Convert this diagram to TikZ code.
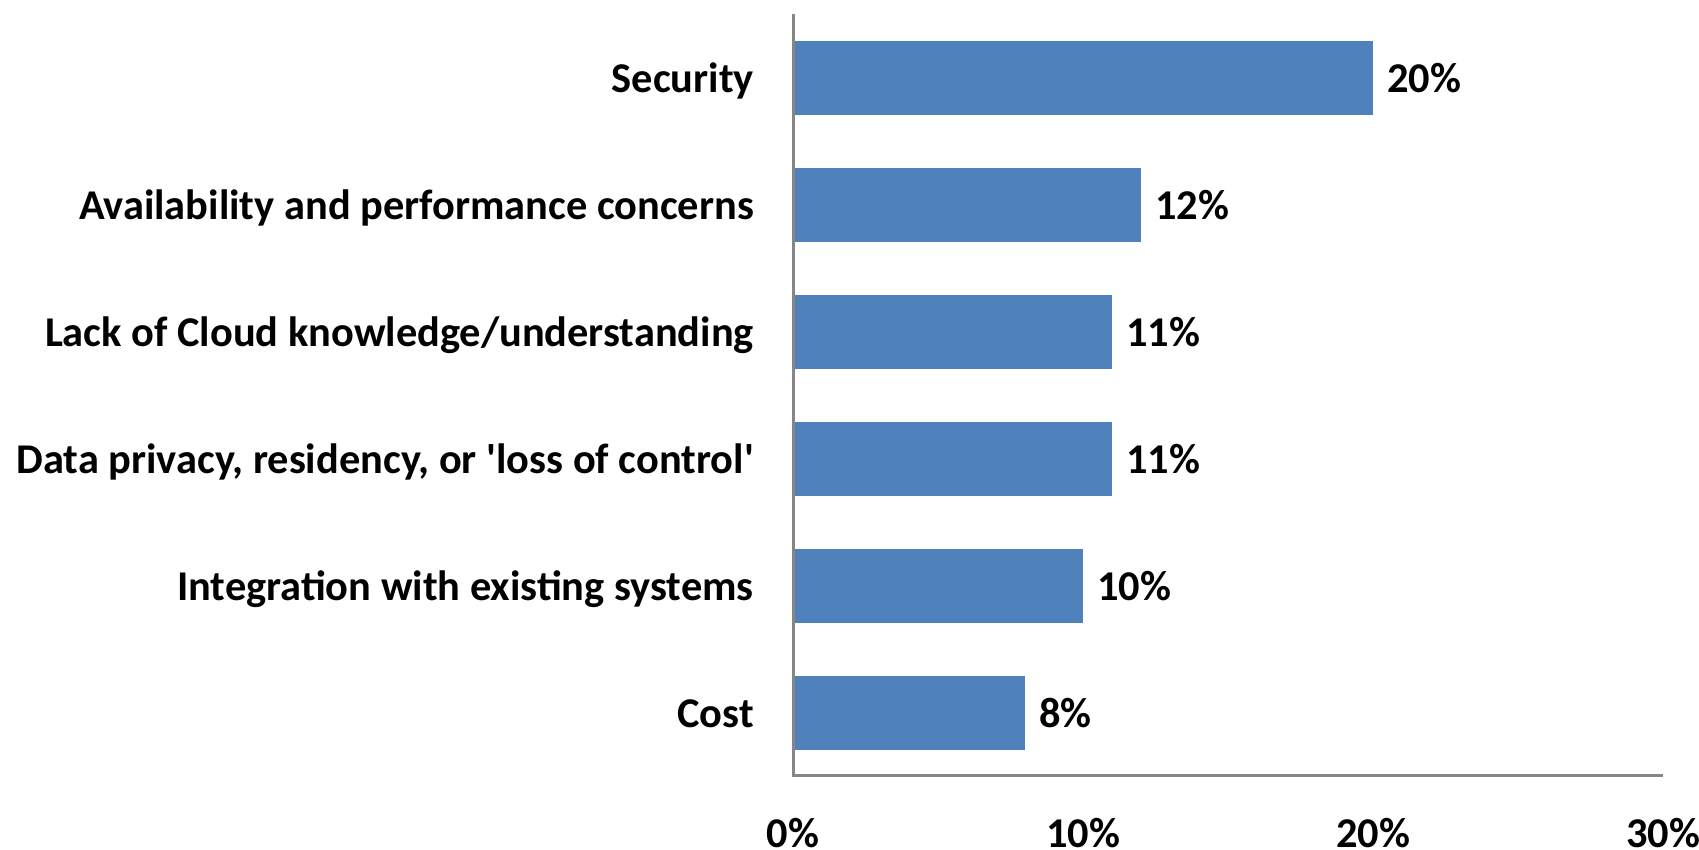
\documentclass[tikz,border=0pt]{standalone}
\usepackage{fontspec}
\setmainfont{Carlito}[Ligatures=TeXOff]
\definecolor{barblue}{HTML}{4F81BD}
\definecolor{axisgray}{HTML}{868686}
\begin{document}
\begin{tikzpicture}[x=1pt,y=-1pt,
  lbl/.style={font=\fontsize{42.4}{50}\selectfont\bfseries, inner sep=0pt, anchor=base east},
  val/.style={font=\fontsize{42.4}{50}\selectfont\bfseries, inner sep=0pt, anchor=base west},
  tick/.style={font=\fontsize{42.4}{50}\selectfont\bfseries, inner sep=0pt, anchor=base},
  barr/.style={fill=barblue, draw=none},
  axisline/.style={draw=axisgray, line width=3pt}]
\useasboundingbox (0,0) rectangle (1699,849);
% bars (10% = 290)
\fill[barr] (793,41) rectangle (1373,115);
\fill[barr] (793,168) rectangle (1141,242);
\fill[barr] (793,295) rectangle (1112,369);
\fill[barr] (793,422) rectangle (1112,496);
\fill[barr] (793,549) rectangle (1083,623);
\fill[barr] (793,676) rectangle (1025,750);
% axes
\coordinate (top) at (793,14);
\coordinate (origin) at (793,775);
\coordinate (right) at (1663,775);
\draw[axisline] (top) -- (origin) -- (right);
% category labels
\node[lbl] (l1) at (754,92) {Security};
\node[lbl] (l2) at (754,219) {Availability and performance concerns};
\node[lbl] (l3) at (754,346) {Lack of Cloud knowledge/understanding};
\node[lbl] (l4) at (754,473) {Data privacy, residency, or 'loss of control'};
\node[lbl] (l5) at (754,600) {Integration with existing systems};
\node[lbl] (l6) at (754,727) {Cost};
% value labels
\node[val] (v1) at (1387,92) {20\%};
\node[val] (v2) at (1155,219) {12\%};
\node[val] (v3) at (1126,346) {11\%};
\node[val] (v4) at (1126,473) {11\%};
\node[val] (v5) at (1097,600) {10\%};
\node[val] (v6) at (1039,727) {8\%};
% tick labels
\node[tick] (t0) at (793,847) {0\%};
\node[tick] (t1) at (1083,847) {10\%};
\node[tick] (t2) at (1373,847) {20\%};
\node[tick] (t3) at (1663,847) {30\%};
\end{tikzpicture}
\end{document}
